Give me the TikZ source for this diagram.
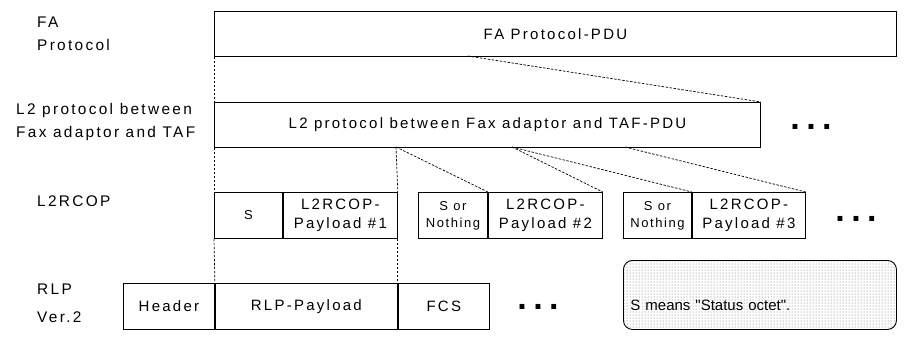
\documentclass[tikz,border=0pt]{standalone}
\usepackage{fontspec}
\setmainfont{Liberation Sans}[LetterSpace=15]
\newfontfamily\notefont{Liberation Sans}[Ligatures=TeXOff]
\usetikzlibrary{positioning,patterns}
\tikzset{
  cell/.style={draw, line width=0.9pt, inner sep=0pt, minimum height=46pt,
    align=center, font=\fontsize{15}{19}\selectfont},
  scell/.style={cell, font=\fontsize{13}{17}\selectfont\addfontfeature{LetterSpace=12}},
  lbl/.style={anchor=north west, inner sep=0pt, align=left,
    font=\fontsize{15.4}{23}\selectfont},
  link/.style={line width=0.7pt, dash pattern=on 2.5pt off 1.5pt},
  more/.style={inner sep=0pt, font=\notefont\bfseries\fontsize{34}{34}\selectfont},
  note/.style={draw, line width=0.9pt, rounded corners=9pt, pattern=dots,
    pattern color=black!60, minimum width=273pt, minimum height=69pt,
    text width=259pt, inner xsep=7pt, align=left, text height=31pt,
    text depth=0pt, font=\notefont\fontsize{15}{18}\selectfont}
}
\begin{document}
\begin{tikzpicture}[x=1pt,y=-1pt]
  \useasboundingbox (0,0) rectangle (907,354);
  \node[lbl] (fa label) at (37,17) {FA\\Protocol};
  \node[lbl] (l2 label) at (16,103) {L2 protocol between\\Fax adaptor and TAF};
  \node[lbl] (l2rcop label) at (37,196) {L2RCOP};
  \node[lbl] (rlp label) at (37,284) {RLP\\[5pt]Ver.2};

  \node[cell, minimum height=45pt, minimum width=682pt, anchor=north west] (fa) at (214,11) {FA Protocol-PDU};
  \node[cell, minimum height=45pt, minimum width=546pt, anchor=north west] (l2) at (214,102) {L2 protocol between Fax adaptor and TAF-PDU};
  \node[more] (l2 more) at (811,127) {.\hspace{6.5pt}.\hspace{6.5pt}.};

  \node[scell, minimum width=68pt, anchor=north west] (s1) at (214,192) {S};
  \node[cell, minimum width=114pt, right=0pt of s1] (pay1) {L2RCOP-\\Payload \#1};
  \node[scell, minimum width=69pt, anchor=north west] (s2) at (418,192) {S or\\Nothing};
  \node[cell, minimum width=114pt, right=0pt of s2] (pay2) {L2RCOP-\\Payload \#2};
  \node[scell, minimum width=68pt, anchor=north west] (s3) at (623,192) {S or\\Nothing};
  \node[cell, minimum width=113pt, right=0pt of s3] (pay3) {L2RCOP-\\Payload \#3};
  \node[more] (l2rcop more) at (856,219) {.\hspace{6.5pt}.\hspace{6.5pt}.};

  \node[cell, minimum width=91pt, anchor=north west] (hdr) at (123,283) {Header};
  \node[cell, minimum width=182pt, right=0pt of hdr] (rlppay) {RLP-Payload};
  \node[cell, minimum width=91pt, right=0pt of rlppay] (fcs) {FCS};
  \node[more] (rlp more) at (538,307) {.\hspace{6.5pt}.\hspace{6.5pt}.};

  \node[note, anchor=north west] (note) at (623,260) {S means "Status octet".};

  \coordinate (fa split) at (468,56);
  \coordinate (l2 split1) at (396,147);
  \coordinate (l2 split2) at (512,147);
  \coordinate (l2 split3) at (625,147);
  \draw[link] (fa.south west) -- (l2.north west);
  \draw[link] (fa split) -- (l2.north east);
  \draw[link] (l2.south west) -- (s1.north west);
  \draw[link] (l2 split1) -- (pay1.north east);
  \draw[link] (l2 split1) -- (pay2.north west);
  \draw[link] (l2 split2) -- (pay2.north east);
  \draw[link] (l2 split2) -- (pay3.north west);
  \draw[link] (l2 split3) -- (pay3.north east);
  \draw[link] (s1.south west) -- (rlppay.north west);
  \draw[link] (pay1.south east) -- (rlppay.north east);
\end{tikzpicture}
\end{document}
